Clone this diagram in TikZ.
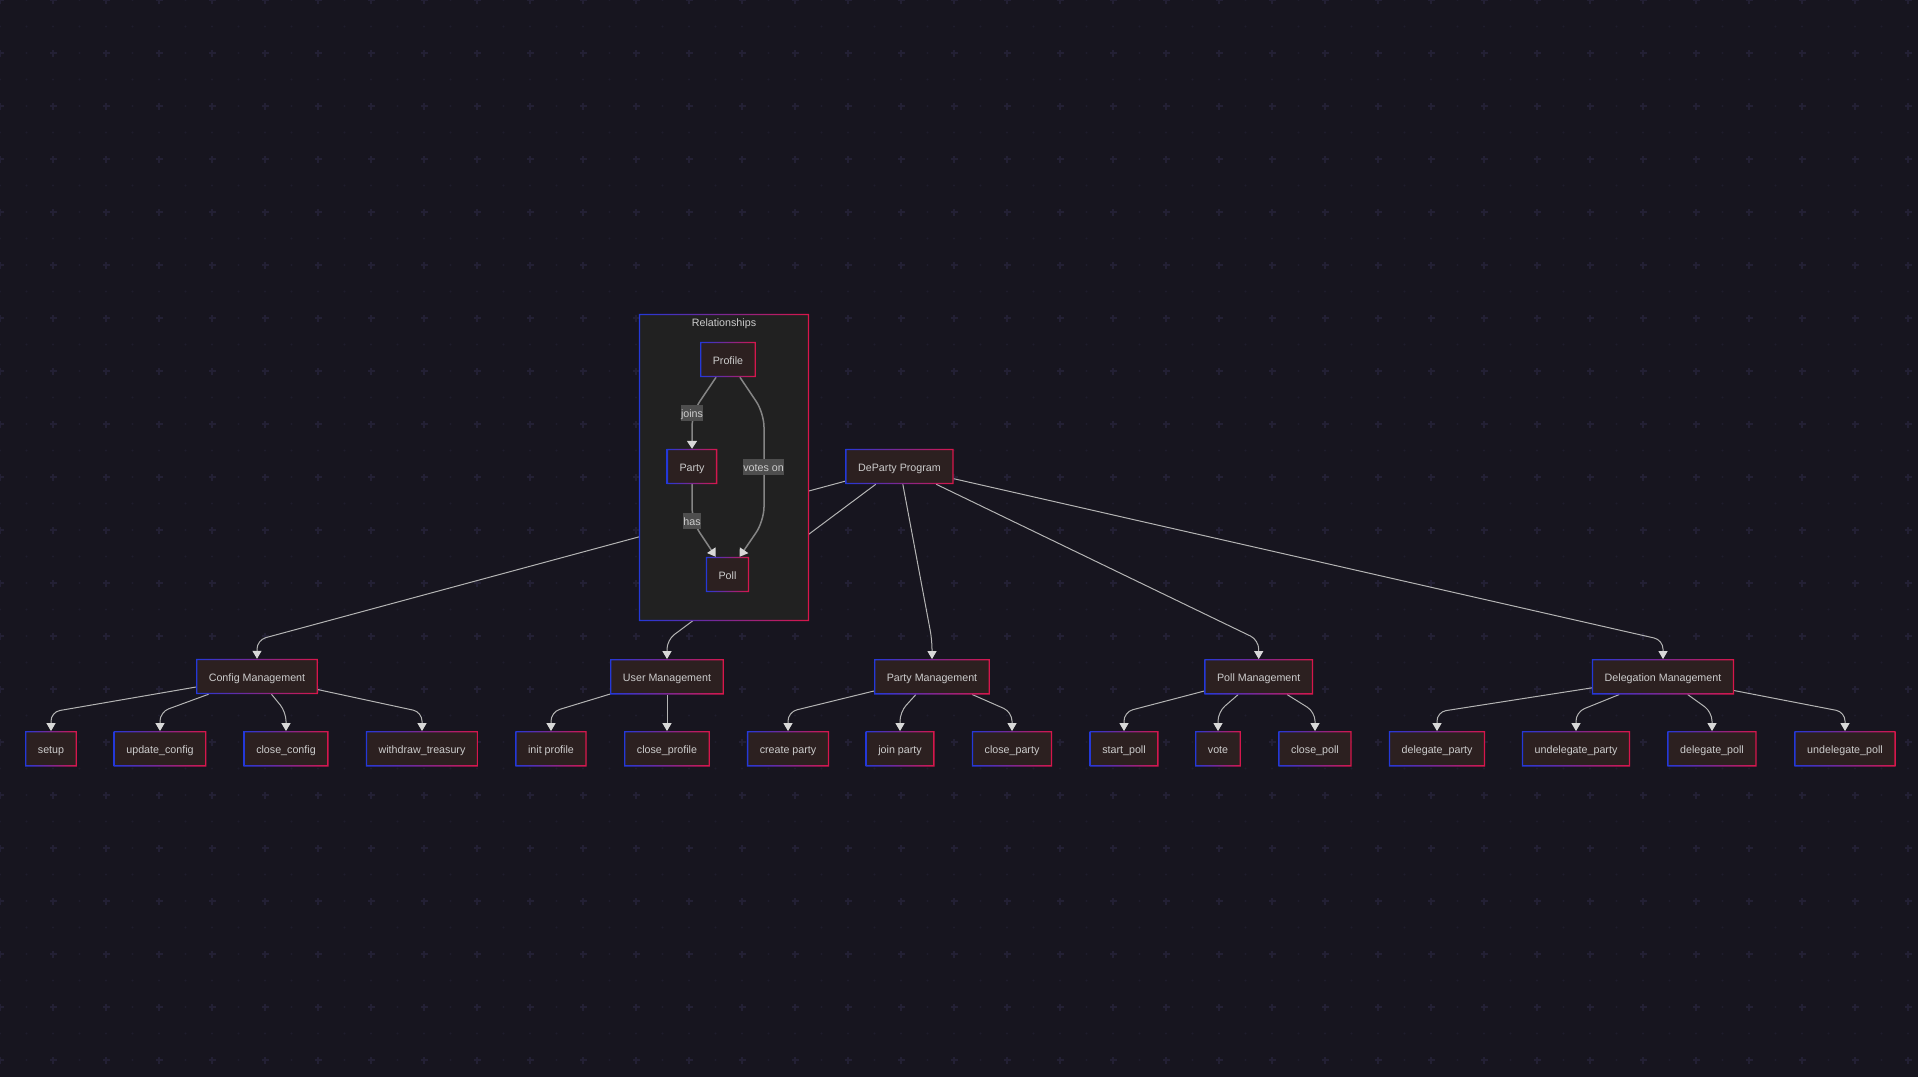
\documentclass[tikz,border=0pt]{standalone}
\usepackage{fontspec}
\setmainfont{Liberation Sans}
\usetikzlibrary{arrows.meta,calc}
\definecolor{bgc}{HTML}{17151F}
\definecolor{dotc}{HTML}{1F1D2C}
\definecolor{plusc}{HTML}{232034}
\definecolor{nodefill}{HTML}{2C2020}
\definecolor{gblue}{HTML}{2438D8}
\definecolor{gred}{HTML}{D8164A}
\definecolor{txtc}{HTML}{CCCCCC}
\definecolor{clfill}{HTML}{212121}
\definecolor{edgec}{HTML}{B4B4B4}
\definecolor{reledge}{HTML}{858585}
\definecolor{arrc}{HTML}{D8D8D8}
\definecolor{lblbg}{HTML}{4E4E4E}
\pgfdeclarelayer{bgl}\pgfdeclarelayer{edg}\pgfdeclarelayer{cl}
\pgfsetlayers{bgl,edg,cl,main}
\newcommand\gfr[1]{\shade[left color=gblue,right color=gred,even odd rule] (#1.south west) rectangle (#1.north east) ([xshift=1.3pt,yshift=1.3pt]#1.south west) rectangle ([xshift=-1.3pt,yshift=-1.3pt]#1.north east);}
\newcommand\fs{\fontsize{10.7pt}{12.8pt}\selectfont}
\begin{document}
\begin{tikzpicture}[x=1pt,y=-1pt,
 nd/.style={fill=nodefill,text=txtc,font=\fs,inner xsep=12.6pt,inner ysep=0pt,minimum height=35pt,text height=9.2pt,text depth=0pt},
 lbl/.style={fill=lblbg,text=txtc,font=\fs,inner xsep=0.4pt,inner ysep=0pt,text height=11.9pt,text depth=3.5pt},
 tedge/.style={draw=edgec,line width=1pt,rounded corners=9pt,-{Triangle[length=8pt,width=9pt,color=arrc]}},
 redge/.style={draw=reledge,line width=1.5pt,rounded corners=14pt,-{Triangle[length=8pt,width=10pt,color=arrc]}}]
\useasboundingbox (0,0) rectangle (1918,1077);
\begin{pgfonlayer}{bgl}
\fill[bgc] (0,0) rectangle (1918,1077);
\foreach \i in {0,...,72}{\foreach \j in {0,...,40}{
 \pgfmathtruncatemacro\pe{mod(\i,2)+mod(\j,2)}
 \ifnum\pe=0
  \fill[plusc] (\i*26.5-3.5,\j*26.5-0.75) rectangle (\i*26.5+3.5,\j*26.5+0.75);
  \fill[plusc] (\i*26.5-0.75,\j*26.5-3.5) rectangle (\i*26.5+0.75,\j*26.5+3.5);
 \else
  \fill[dotc] (\i*26.5,\j*26.5) circle (1.1pt);
 \fi}}
\end{pgfonlayer}

% nodes
\node[nd] (dp) at (899.5,466.5) {DeParty Program};
\node[nd] (prof) at (728,359.5) {Profile};
\node[nd] (party) at (692,466.5) {Party};
\node[nd] (poll) at (727.5,574.5) {Poll};
\node[nd] (cfg) at (257,676.5) {Config Management};
\node[nd] (um) at (667,676.8) {User Management};
\node[nd] (pm) at (932,676.8) {Party Management};
\node[nd] (plm) at (1258.7,676.8) {Poll Management};
\node[nd] (dm) at (1663,676.8) {Delegation Management};
\node[nd] (setup) at (51,748.8) {setup};
\node[nd] (upcfg) at (160,748.8) {update\_config};
\node[nd] (clcfg) at (286,748.8) {close\_config};
\node[nd] (wtr) at (422,748.8) {withdraw\_treasury};
\node[nd] (iprof) at (551,748.8) {init profile};
\node[nd] (cprof) at (667,748.8) {close\_profile};
\node[nd] (crp) at (788,748.8) {create party};
\node[nd] (jp) at (900,748.8) {join party};
\node[nd] (clp) at (1012,748.8) {close\_party};
\node[nd] (stp) at (1124,748.8) {start\_poll};
\node[nd] (vote) at (1218,748.8) {vote};
\node[nd] (clpoll) at (1315,748.8) {close\_poll};
\node[nd] (dlp) at (1437,748.8) {delegate\_party};
\node[nd] (udlp) at (1576,748.8) {undelegate\_party};
\node[nd] (dlpoll) at (1712,748.8) {delegate\_poll};
\node[nd] (udlpoll) at (1845,748.8) {undelegate\_poll};

% cluster
\begin{pgfonlayer}{cl}
\node[fill=clfill,minimum width=170pt,minimum height=307pt,inner sep=0pt] (rel) at (724,467.5) {};
\gfr{rel}
\node[text=txtc,font=\fs,inner sep=0pt] (relt) at (724,323.3) {Relationships};
\end{pgfonlayer}

% tree edges
\begin{pgfonlayer}{edg}
\draw[tedge] (dp) -- (cfg.north |- 0,640) -- (cfg.north);
\draw[tedge] (dp) -- (um.north |- 0,640) -- (um.north);
\draw[tedge] (dp) -- (pm.north |- 0,640) -- (pm.north);
\draw[tedge] (dp) -- (plm.north |- 0,640) -- (plm.north);
\draw[tedge] (dp) -- (dm.north |- 0,640) -- (dm.north);
\foreach \p/\c in {cfg/setup,cfg/upcfg,cfg/clcfg,cfg/wtr,um/iprof,pm/crp,pm/jp,pm/clp,plm/stp,plm/vote,plm/clpoll,dm/dlp,dm/udlp,dm/dlpoll,dm/udlpoll}{
 \draw[tedge] (\p) -- (\c.north |- 0,712) -- (\c.north);}
\draw[tedge] (um) -- (cprof.north);
\end{pgfonlayer}

% relationship edges
\draw[redge] (prof) -- (party.north |- 0,413) -- (party.north);
\draw[redge] (party) -- (party.south |- 0,521) -- (poll);
\draw[redge] (prof) -- (764,413) -- (764,521) -- (poll);

\foreach \n in {dp,prof,party,poll,cfg,um,pm,plm,dm,setup,upcfg,clcfg,wtr,iprof,cprof,crp,jp,clp,stp,vote,clpoll,dlp,udlp,dlpoll,udlpoll}{\gfr{\n}}

\node[lbl] (ljoins) at (692,413) {joins};
\node[lbl] (lvotes) at (763.5,467) {votes on};
\node[lbl] (lhas) at (692,521) {has};
\end{tikzpicture}
\end{document}
